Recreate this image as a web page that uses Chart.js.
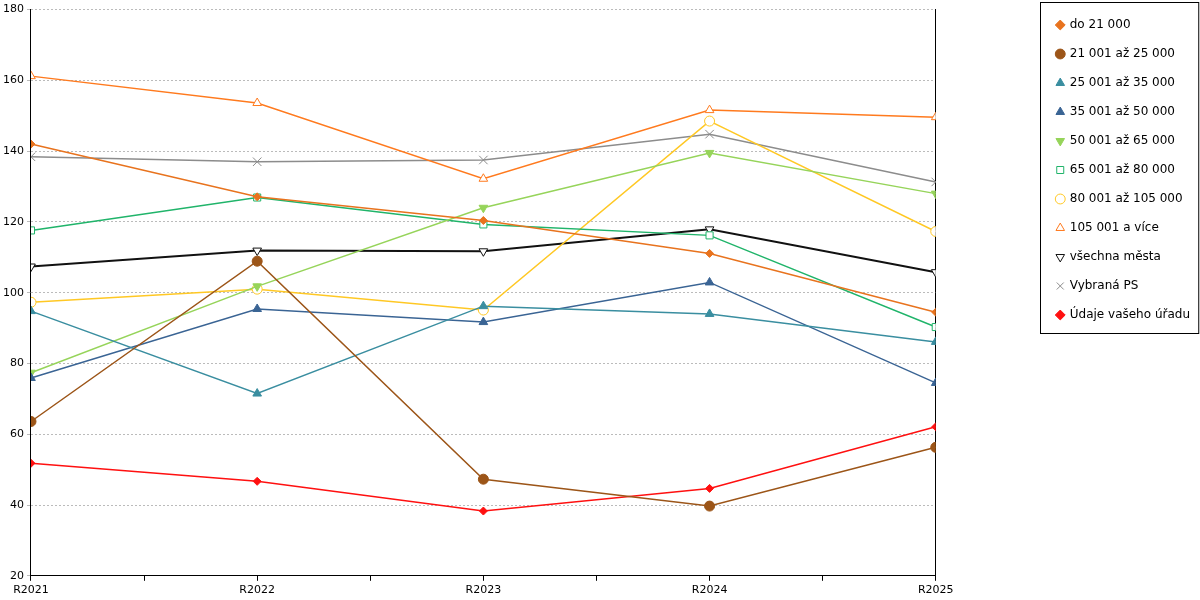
<!DOCTYPE html>
<html><head><meta charset="utf-8">
<script src="https://cdn.jsdelivr.net/npm/chart.js@4.4.0/dist/chart.umd.min.js"></script>
<style>body{margin:0;background:#fff}#wrap{width:1200px;height:600px}</style>
</head><body><div id="wrap"><canvas id="c"></canvas></div>
<script>
const years = ['R2021', 'R2022', 'R2023', 'R2024', 'R2025'];
const seriesNames = ['do 21 000', '21 001 až 25 000', '25 001 až 35 000', '35 001 až 50 000', '50 001 až 65 000', '65 001 až 80 000', '80 001 až 105 000', '105 001 a více', 'všechna města', 'Vybraná PS', 'Údaje vašeho úřadu'];
const do21 = [142.0, 127.1, 120.4, 111.1, 94.5];
const do25 = [63.6, 108.9, 47.3, 39.7, 56.3];
const do35 = [94.8, 71.5, 96.2, 94.0, 86.1];
const do50 = [75.9, 95.4, 91.7, 102.9, 74.5];
const do65 = [77.4, 101.8, 124.0, 139.5, 128.0];
const do80 = [117.6, 126.9, 119.3, 116.2, 90.3];
const do105 = [97.3, 101.0, 95.1, 148.5, 117.3];
const nad105 = [161.2, 153.6, 132.2, 151.6, 149.6];
const vsechna = [107.4, 111.9, 111.7, 117.9, 105.8];
const vybranaPS = [138.4, 137.0, 137.5, 144.8, 131.3];
const urad = [51.8, 46.7, 38.3, 44.7, 62.1];
const allValues = [do21, do25, do35, do50, do65, do80, do105, nad105, vsechna, vybranaPS, urad];

const colors = ['#e8731e', '#9c5518', '#3a8ea0', '#3a6494', '#96d45a', '#20b46a', '#ffc824', '#ff7a1e', '#111111', '#8c8c8c', '#ff1010'];
const marks = [
  { style: 'rectRot', fill: true, r: 4 },
  { style: 'circle', fill: true, r: 5 },
  { style: 'triangle', fill: true, r: 5 },
  { style: 'triangle', fill: true, r: 5 },
  { style: 'triangle', fill: true, r: 5, rot: 180 },
  { style: 'rect', fill: false, r: 5 },
  { style: 'circle', fill: false, r: 5 },
  { style: 'triangle', fill: false, r: 5 },
  { style: 'triangle', fill: false, r: 5, rot: 180 },
  { style: 'cross', fill: false, r: 6, rot: 45 },
  { style: 'rectRot', fill: true, r: 4 },
];

const datasets = seriesNames.map((name, i) => ({
  label: name,
  data: allValues[i].map((v, j) => ({ x: j, y: v })),
  yAxisID: 'y',
  borderColor: colors[i],
  backgroundColor: marks[i].fill ? colors[i] : '#fff',
  pointBorderColor: colors[i],
  pointBackgroundColor: marks[i].fill ? colors[i] : '#fff',
  pointStyle: marks[i].style,
  pointRotation: marks[i].rot || 0,
  pointRadius: marks[i].r,
  pointBorderWidth: 1,
  borderWidth: i === 8 ? 2 : 1.5,
  tension: 0,
}));

// Frame round the legend entries only.
const framePlugin = {
  id: 'frame',
  afterDraw(chart) {
    const { ctx, legend } = chart;
    const boxes = legend.legendHitBoxes;
    const last = boxes[boxes.length - 1];
    ctx.save();
    ctx.strokeStyle = '#000';
    ctx.lineWidth = 1;
    ctx.strokeRect(Math.round(legend.left) + 0.5, 2.5, legend.width - 2, last.top + last.height + 12 - 2);
    ctx.restore();
  },
};

new Chart(document.getElementById('c'), {
  type: 'line',
  data: { datasets },
  plugins: [framePlugin],
  options: {
    responsive: true,
    maintainAspectRatio: false,
    animation: false,
    layout: { padding: { top: 2, right: 0, bottom: 0 } },
    plugins: {
      tooltip: { enabled: false },
      legend: {
        position: 'right',
        align: 'start',
        labels: {
          usePointStyle: true,
          boxWidth: 7,
          boxHeight: 7,
          padding: 17,
          color: '#000',
          font: { family: 'DejaVu Sans', size: 12 },
        },
      },
    },
    scales: {
      x: {
        type: 'linear',
        min: 0,
        max: 4,
        ticks: {
          stepSize: 0.5,
          autoSkip: false,
          maxRotation: 0,
          color: '#000',
          font: { family: 'DejaVu Sans', size: 11 },
          callback: (v) => (Number.isInteger(v) ? years[v] : ''),
        },
        grid: { drawOnChartArea: false, drawTicks: true, tickLength: 5, color: '#000' },
        border: { color: '#000' },
      },
      y: {
        min: 20,
        max: 180,
        ticks: { stepSize: 20, color: '#000', font: { family: 'DejaVu Sans', size: 11 } },
        grid: { color: '#bbb', drawTicks: true, tickLength: 4 },
        border: { color: '#000', dash: [2, 2] },
      },
      // empty right axis: draws the right-hand line and leaves the gap before the legend
      y2: {
        position: 'right',
        min: 20,
        max: 180,
        ticks: { display: false },
        grid: { display: false },
        border: { color: '#000' },
        afterFit: (scale) => { scale.width = 104; },
      },
    },
  },
});
</script></body></html>
